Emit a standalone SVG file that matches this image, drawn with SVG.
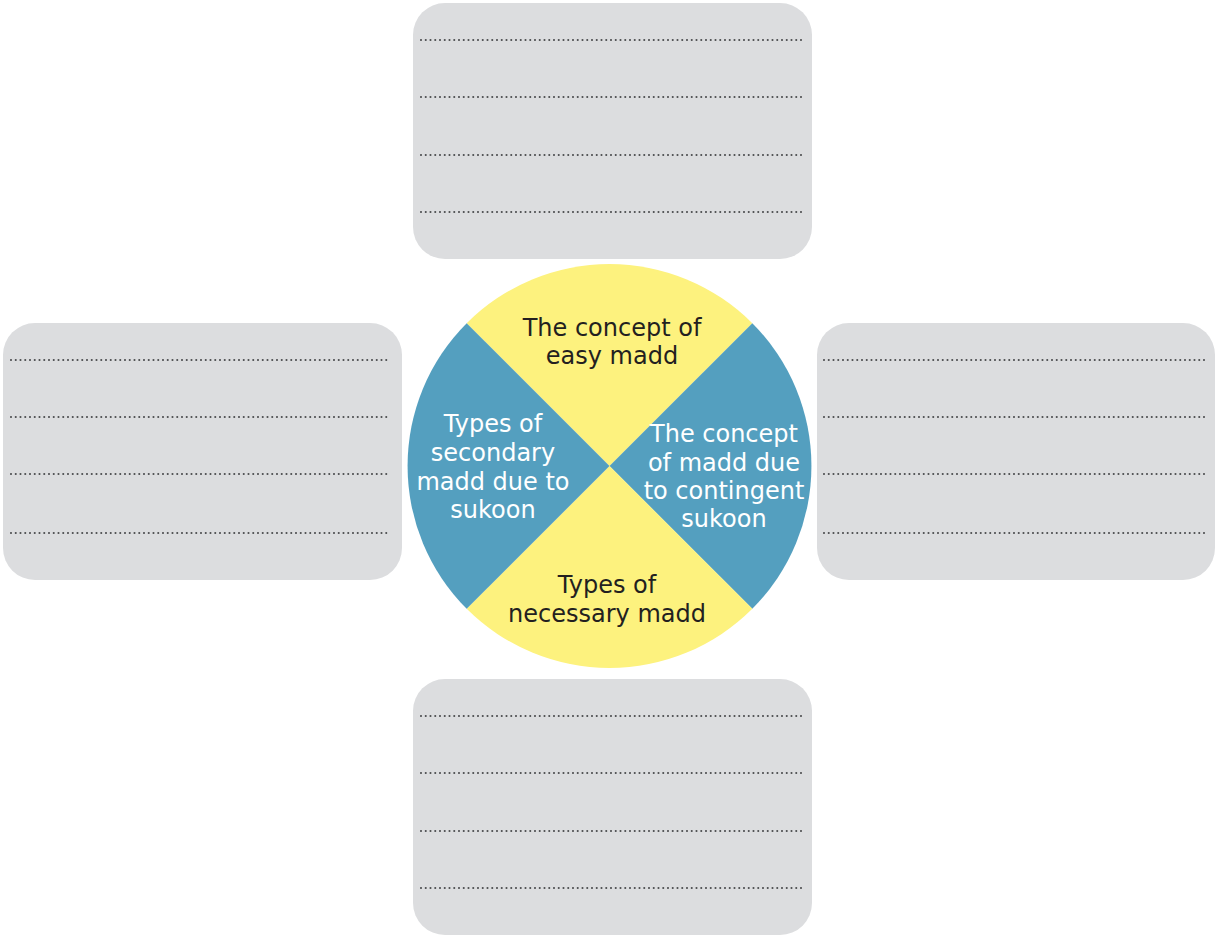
<svg xmlns="http://www.w3.org/2000/svg" width="1216" height="936" viewBox="0 0 1216 936">
  <style>
    .card { fill: #dcdddf; }
    .rule { stroke: #4a4b4d; stroke-width: 2.1; stroke-linecap: round; stroke-dasharray: 0 4.75; fill: none; }
    .yellow { fill: #fdf27e; }
    .blue { fill: #549fbf; }
    .label { font-family: "DejaVu Sans", "Liberation Sans", sans-serif; font-size: 24px; text-anchor: middle; }
    .dark { fill: #231f20; }
    .light { fill: #ffffff; }
  </style>
  <rect width="1216" height="936" fill="#ffffff"/>

  <!-- answer card: top -->
  <g id="card-top">
    <rect class="card" x="413" y="3" width="399" height="256" rx="32"/>
    <path class="rule" d="M421 40H802M421 97H802M421 155H802M421 212H802"/>
  </g>

  <!-- answer card: left -->
  <g id="card-left">
    <rect class="card" x="3" y="323" width="399" height="257" rx="32"/>
    <path class="rule" d="M11 360H391M11 417H391M11 474H391M11 533H391"/>
  </g>

  <!-- answer card: right -->
  <g id="card-right">
    <rect class="card" x="817" y="323" width="398" height="257" rx="32"/>
    <path class="rule" d="M824 360H1205M824 417H1205M824 474H1205M824 533H1205"/>
  </g>

  <!-- answer card: bottom -->
  <g id="card-bottom">
    <rect class="card" x="413" y="679" width="399" height="256" rx="32"/>
    <path class="rule" d="M421 716H802M421 773H802M421 831H802M421 888H802"/>
  </g>

  <!-- no connectors in this layout -->
  <g id="connectors"/>

  <!-- central wheel split into four quadrants -->
  <g id="wheel">
    <g id="q-top">
      <path class="yellow" d="M609.5 466 L466.7 323.2 A202 202 0 0 1 752.3 323.2 Z"/>
      <text class="label dark" x="612" y="336">The concept of</text>
      <text class="label dark" x="612" y="364">easy madd</text>
    </g>
    <g id="q-right">
      <path class="blue" d="M609.5 466 L752.3 323.2 A202 202 0 0 1 752.3 608.8 Z"/>
      <text class="label light" x="724" y="442">The concept</text>
      <text class="label light" x="724" y="471">of madd due</text>
      <text class="label light" x="724" y="499">to contingent</text>
      <text class="label light" x="724" y="527">sukoon</text>
    </g>
    <g id="q-bottom">
      <path class="yellow" d="M609.5 466 L752.3 608.8 A202 202 0 0 1 466.7 608.8 Z"/>
      <text class="label dark" x="607" y="593">Types of</text>
      <text class="label dark" x="607" y="622">necessary madd</text>
    </g>
    <g id="q-left">
      <path class="blue" d="M609.5 466 L466.7 608.8 A202 202 0 0 1 466.7 323.2 Z"/>
      <text class="label light" x="493" y="432">Types of</text>
      <text class="label light" x="493" y="461">secondary</text>
      <text class="label light" x="493" y="490">madd due to</text>
      <text class="label light" x="493" y="518">sukoon</text>
    </g>
  </g>
</svg>
